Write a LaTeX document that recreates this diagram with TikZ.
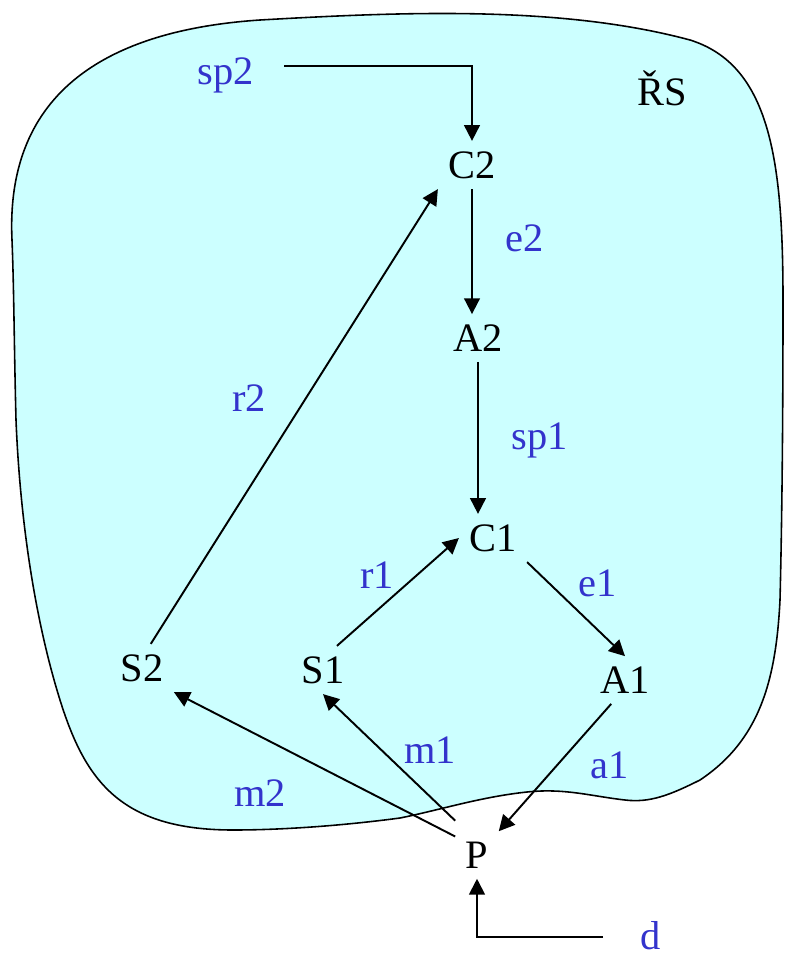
\documentclass[tikz,border=0pt]{standalone}
\usepackage{fontspec}
\setmainfont{Liberation Serif}
\usepackage{tikz}
\usetikzlibrary{arrows.meta}
\definecolor{lblue}{RGB}{51,51,204}
\definecolor{areafill}{RGB}{204,255,255}

\begin{document}
\begin{tikzpicture}[x=0.02cm,y=-0.02cm,
    font=\fontsize{23}{27}\selectfont,
    st/.style={inner sep=3pt,outer sep=3pt},
    lbl/.style={text=lblue,inner sep=0pt},
    arr/.style={-{Triangle[length=9pt,width=9pt]},line width=1.1pt}]
  \useasboundingbox (0,0) rectangle (786,957);
  % the system area
  \draw[fill=areafill,line width=0.9pt]
    (12,240) .. controls (5,90) and (110,30) .. (260,20)
    .. controls (400,12) and (560,5) .. (690,40)
    .. controls (770,65) and (783,160) .. (783,300)
    .. controls (783,420) and (782,520) .. (780,600)
    .. controls (776,680) and (760,740) .. (700,780)
    .. controls (670,795) and (650,803) .. (625,800)
    .. controls (590,796) and (565,788) .. (527,792)
    .. controls (480,797) and (440,810) .. (400,818)
    .. controls (340,826) and (280,830) .. (233,830)
    .. controls (120,830) and (85,780) .. (60,700)
    .. controls (35,620) and (20,520) .. (16,420)
    .. controls (14,340) and (14,290) .. (12,240) -- cycle;
  \node[anchor=center] (RS) at (662,88) {ŘS};
  % nodes
  \node[st] (C2) at (472,165) {C2};
  \node[st] (A2) at (478,338) {A2};
  \node[st] (C1) at (493,538) {C1};
  \node[st] (S1) at (323,670) {S1};
  \node[st] (A1) at (625,680) {A1};
  \node[st] (S2) at (142,668) {S2};
  \node[st] (P) at (477,855) {P};
  \coordinate (sp2s) at (284,66);
  \coordinate (ds) at (603,937);
  % edges
  \draw[arr] (sp2s) -| (C2.north);
  \draw[arr] (C2.south) -- (C2.south |- A2.north);
  \draw[arr] (A2.south) -- (A2.south |- C1.north);
  \draw[arr] (S2.70) -- (C2.south west);
  \draw[arr] (S1.60) -- (C1.west);
  \draw[arr] (C1.south east) -- (A1.north);
  \draw[arr] (A1.240) -- (P.north east);
  \draw[arr] ([yshift=6pt]P.north west) -- (S1.south);
  \draw[arr] ([yshift=-3pt]P.north west) -- (S2.south east);
  \draw[arr] (ds) -| (P.south);
  % labels
  \node[lbl] (lsp2) at (226,75) {sp2};
  \node[lbl] (le2) at (525,238) {e2};
  \node[lbl] (lsp1) at (540,440) {sp1};
  \node[lbl] (lr2) at (249,398) {r2};
  \node[lbl] (lr1) at (377,575) {r1};
  \node[lbl] (le1) at (598,583) {e1};
  \node[lbl] (lm1) at (430,750) {m1};
  \node[lbl] (lm2) at (260,793) {m2};
  \node[lbl] (la1) at (610,765) {a1};
  \node[lbl] (ld) at (651,936) {d};
\end{tikzpicture}
\end{document}
